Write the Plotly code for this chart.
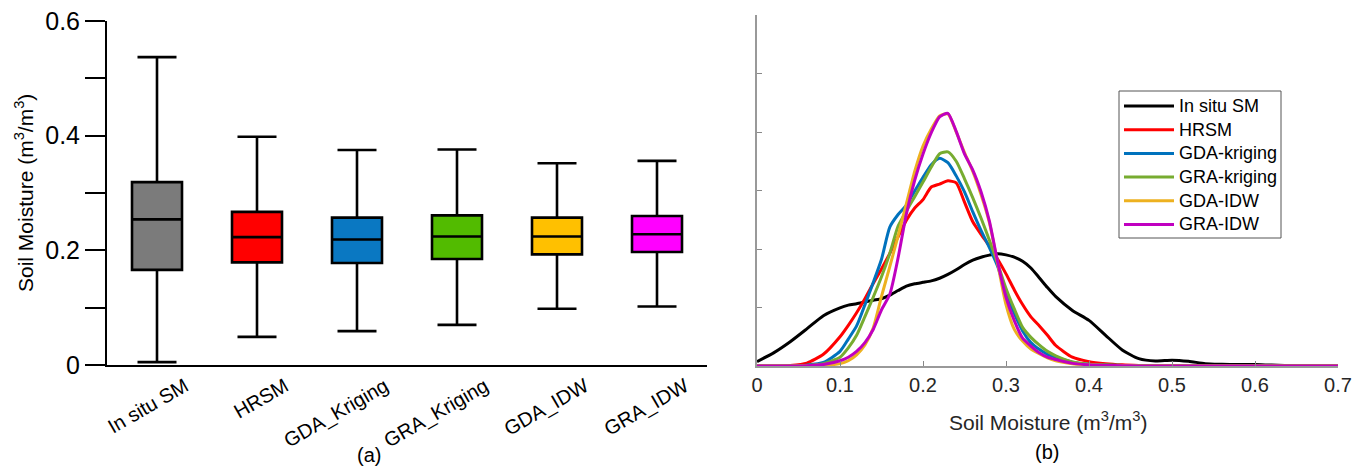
import plotly.graph_objects as go

# The page body adds an 8 px margin; lay the figure out in screen pixels and
# shift by that offset so that screen positions match the reference.
OFF = 8
W, H = 1370 - OFF, 466 - OFF
FONT = "Arial, Liberation Sans, sans-serif"

# ---------------- (a) box plot data ----------------
box_names = ["In situ SM", "HRSM", "GDA_Kriging", "GRA_Kriging", "GDA_IDW", "GRA_IDW"]
box_lower = [0.005, 0.049, 0.059, 0.070, 0.098, 0.102]
box_q1 = [0.166, 0.179, 0.178, 0.185, 0.193, 0.197]
box_median = [0.254, 0.223, 0.219, 0.224, 0.224, 0.228]
box_q3 = [0.319, 0.267, 0.257, 0.261, 0.257, 0.260]
box_upper = [0.537, 0.398, 0.375, 0.376, 0.352, 0.356]
box_colors = ["#7b7b7b", "#ff0000", "#0a78c2", "#52bb00", "#ffc000", "#ff00ff"]

# ---------------- (b) density data ----------------
sm = [0.00, 0.02, 0.04, 0.06, 0.08, 0.10, 0.11, 0.12, 0.13, 0.14, 0.15, 0.16, 0.17,
      0.18, 0.19, 0.20, 0.21, 0.22, 0.23, 0.24, 0.25, 0.26, 0.27, 0.28, 0.29, 0.30,
      0.31, 0.32, 0.33, 0.34, 0.35, 0.36, 0.38, 0.40, 0.42, 0.44, 0.46, 0.48, 0.50,
      0.52, 0.54, 0.56, 0.58, 0.60, 0.62, 0.65, 0.70]
dens_insitu = [0.15, 0.45, 0.83, 1.27, 1.72, 1.99, 2.08, 2.13, 2.19, 2.25, 2.30, 2.42, 2.58,
               2.73, 2.81, 2.86, 2.91, 3.00, 3.13, 3.29, 3.47, 3.62, 3.72, 3.79, 3.84, 3.80,
               3.72, 3.58, 3.35, 3.02, 2.68, 2.37, 1.90, 1.56, 1.05, 0.55, 0.25, 0.17, 0.20,
               0.16, 0.08, 0.06, 0.05, 0.05, 0.03, 0.01, 0.00]
dens_hrsm = [0.00, 0.00, 0.02, 0.10, 0.40, 1.00, 1.39, 1.82, 2.30, 2.82, 3.32, 3.85, 4.42,
             4.98, 5.40, 5.69, 6.12, 6.22, 6.33, 6.26, 5.60, 4.93, 4.50, 4.10, 3.65, 3.15,
             2.60, 2.10, 1.68, 1.38, 1.05, 0.70, 0.30, 0.15, 0.08, 0.04, 0.02, 0.01, 0.01,
             0.00, 0.00, 0.00, 0.00, 0.00, 0.00, 0.00, 0.00]
dens_gda_krig = [0.00, 0.00, 0.00, 0.03, 0.12, 0.50, 0.92, 1.37, 2.09, 2.85, 3.65, 4.75, 5.18,
                 5.50, 5.98, 6.45, 6.88, 7.10, 6.95, 6.50, 5.95, 5.27, 4.63, 4.05, 3.40, 2.50,
                 1.80, 1.20, 0.80, 0.57, 0.40, 0.30, 0.13, 0.06, 0.03, 0.02, 0.01, 0.00, 0.00,
                 0.00, 0.00, 0.00, 0.00, 0.00, 0.00, 0.00, 0.00]
dens_gra_krig = [0.00, 0.00, 0.00, 0.02, 0.08, 0.30, 0.62, 1.05, 1.69, 2.35, 3.05, 3.85, 4.78,
                 5.30, 5.79, 6.29, 6.80, 7.26, 7.32, 7.00, 6.40, 5.75, 5.05, 4.30, 3.50, 2.65,
                 1.95, 1.32, 0.98, 0.72, 0.50, 0.35, 0.14, 0.06, 0.03, 0.02, 0.01, 0.00, 0.00,
                 0.00, 0.00, 0.00, 0.00, 0.00, 0.00, 0.00, 0.00]
dens_gda_idw = [0.00, 0.00, 0.00, 0.00, 0.02, 0.08, 0.18, 0.38, 0.72, 1.30, 2.38, 3.40, 4.45,
                5.55, 6.65, 7.52, 8.10, 8.55, 8.62, 8.00, 7.30, 6.65, 5.85, 4.90, 3.50, 2.10,
                1.25, 0.85, 0.58, 0.42, 0.28, 0.18, 0.08, 0.04, 0.02, 0.01, 0.00, 0.00, 0.00,
                0.00, 0.00, 0.00, 0.00, 0.00, 0.00, 0.00, 0.00]
dens_gra_idw = [0.00, 0.00, 0.00, 0.01, 0.05, 0.18, 0.30, 0.50, 0.80, 1.25, 1.92, 2.45, 3.70,
                5.20, 6.35, 7.25, 7.98, 8.52, 8.64, 8.02, 7.25, 6.70, 5.95, 4.95, 3.55, 2.35,
                1.55, 0.95, 0.68, 0.45, 0.30, 0.22, 0.09, 0.04, 0.02, 0.01, 0.00, 0.00, 0.00,
                0.00, 0.00, 0.00, 0.00, 0.00, 0.00, 0.00, 0.00]
dens_names = ["In situ SM", "HRSM", "GDA-kriging", "GRA-kriging", "GDA-IDW", "GRA-IDW"]
dens_colors = ["#000000", "#ff0000", "#0072bd", "#77ac30", "#edb120", "#c000c0"]
dens_series = [dens_insitu, dens_hrsm, dens_gda_krig, dens_gra_krig, dens_gda_idw, dens_gra_idw]

sm_ticks = [0, 0.1, 0.2, 0.3, 0.4, 0.5, 0.6, 0.7]
sm_ticktext = ["0", "0.1", "0.2", "0.3", "0.4", "0.5", "0.6", "0.7"]
box_yticks = [0, 0.2, 0.4, 0.6]
box_yticktext = ["0", "0.2", "0.4", "0.6"]
box_yminor = [0.1, 0.3, 0.5]

fig = go.Figure()

for i, name in enumerate(box_names):
    fig.add_trace(go.Box(
        x=[name], q1=[box_q1[i]], median=[box_median[i]], q3=[box_q3[i]],
        lowerfence=[box_lower[i]], upperfence=[box_upper[i]],
        fillcolor=box_colors[i], line=dict(color="black", width=2.6),
        width=0.5, whiskerwidth=0.78, boxpoints=False, showlegend=False,
        xaxis="x", yaxis="y", hoverinfo="skip",
    ))

for name, ys, col in zip(dens_names, dens_series, dens_colors):
    fig.add_trace(go.Scatter(
        x=sm, y=ys, mode="lines", name=name, showlegend=False,
        line=dict(color=col, width=3, shape="spline", smoothing=0.6),
        xaxis="x2", yaxis="y2",
    ))

# screen-pixel -> paper conversion
px = lambda v: (v - OFF) / W
py = lambda v: 1 - (v - OFF) / H

# manual legend (MATLAB style) in paper coordinates
shapes = [dict(type="rect", xref="paper", yref="paper",
               x0=px(1119), x1=px(1281), y0=py(91), y1=py(238),
               line=dict(color="#555555", width=1), fillcolor="white", layer="above")]
annotations = []
for k, (name, col) in enumerate(zip(dens_names, dens_colors)):
    yrow = 106 + k * 23.7
    shapes.append(dict(type="line", xref="paper", yref="paper",
                       x0=px(1124), x1=px(1174), y0=py(yrow), y1=py(yrow),
                       line=dict(color=col, width=3), layer="above"))
    annotations.append(dict(text=name, x=px(1177), y=py(yrow), xref="paper", yref="paper",
                            xanchor="left", yanchor="middle", showarrow=False,
                            font=dict(size=18, family=FONT, color="black")))

annotations += [
    dict(text="Soil Moisture (m<sup>3</sup>/m<sup>3</sup>)", textangle=-90,
         x=px(24), y=py(193), xref="paper", yref="paper", xanchor="center", yanchor="middle",
         showarrow=False, font=dict(size=21, family=FONT, color="black")),
    dict(text="Soil Moisture (m<sup>3</sup>/m<sup>3</sup>)",
         x=px(1048), y=py(421), xref="paper", yref="paper", xanchor="center", yanchor="middle",
         showarrow=False, font=dict(size=21, family=FONT, color="#262626")),
    dict(text="(a)", x=px(369), y=py(455), xref="paper", yref="paper",
         xanchor="center", yanchor="middle",
         showarrow=False, font=dict(size=20, family=FONT, color="black")),
    dict(text="(b)", x=px(1047), y=py(452), xref="paper", yref="paper",
         xanchor="center", yanchor="middle",
         showarrow=False, font=dict(size=20, family=FONT, color="black")),
]

fig.update_layout(
    template="none",
    width=W, height=H,
    margin=dict(l=0, r=0, t=0, b=0, pad=0, autoexpand=False),
    paper_bgcolor="white", plot_bgcolor="white",
    font=dict(family=FONT, color="black"),
    boxmode="overlay",
    showlegend=False,
    xaxis=dict(
        domain=[px(107), px(707)], type="category",
        categoryorder="array", categoryarray=box_names,
        range=[-0.5, 5.5], showline=True, linecolor="black", linewidth=2,
        ticks="", showgrid=False, zeroline=False, tickangle=-30, automargin=False,
        ticklabeloverflow="allow", ticklabelshift=28,
        tickfont=dict(size=20, family=FONT, color="black"), anchor="y",
    ),
    yaxis=dict(
        domain=[py(365), py(21)], range=[0, 0.6],
        tickmode="array", tickvals=box_yticks, ticktext=box_yticktext,
        ticks="outside", ticklen=20, tickwidth=2, tickcolor="black",
        minor=dict(tickmode="array", tickvals=box_yminor, ticks="outside",
                   ticklen=20, tickwidth=2, tickcolor="black", showgrid=False),
        showline=True, linecolor="black", linewidth=2, automargin=False,
        ticklabeloverflow="allow",
        showgrid=False, zeroline=False,
        tickfont=dict(size=25, family=FONT, color="black"), anchor="x",
    ),
    xaxis2=dict(
        domain=[px(757), px(1338)], range=[0, 0.7],
        tickmode="array", tickvals=sm_ticks, ticktext=sm_ticktext,
        ticks="inside", ticklen=5, tickwidth=1, tickcolor="#888888",
        showline=True, linecolor="#999999", linewidth=1.5, automargin=False,
        ticklabeloverflow="allow",
        showgrid=False, zeroline=False,
        tickfont=dict(size=20, family=FONT, color="#262626"), anchor="y2",
    ),
    yaxis2=dict(
        domain=[py(366), py(15)], range=[0, 12],
        tickmode="array", tickvals=[0, 2, 4, 6, 8, 10, 12], showticklabels=False,
        ticks="inside", ticklen=5, tickwidth=1, tickcolor="#888888",
        showline=True, linecolor="#999999", linewidth=1.5, automargin=False,
        showgrid=False, zeroline=False, anchor="x2",
    ),
    shapes=shapes,
    annotations=annotations,
)

fig.write_html("out.html")
